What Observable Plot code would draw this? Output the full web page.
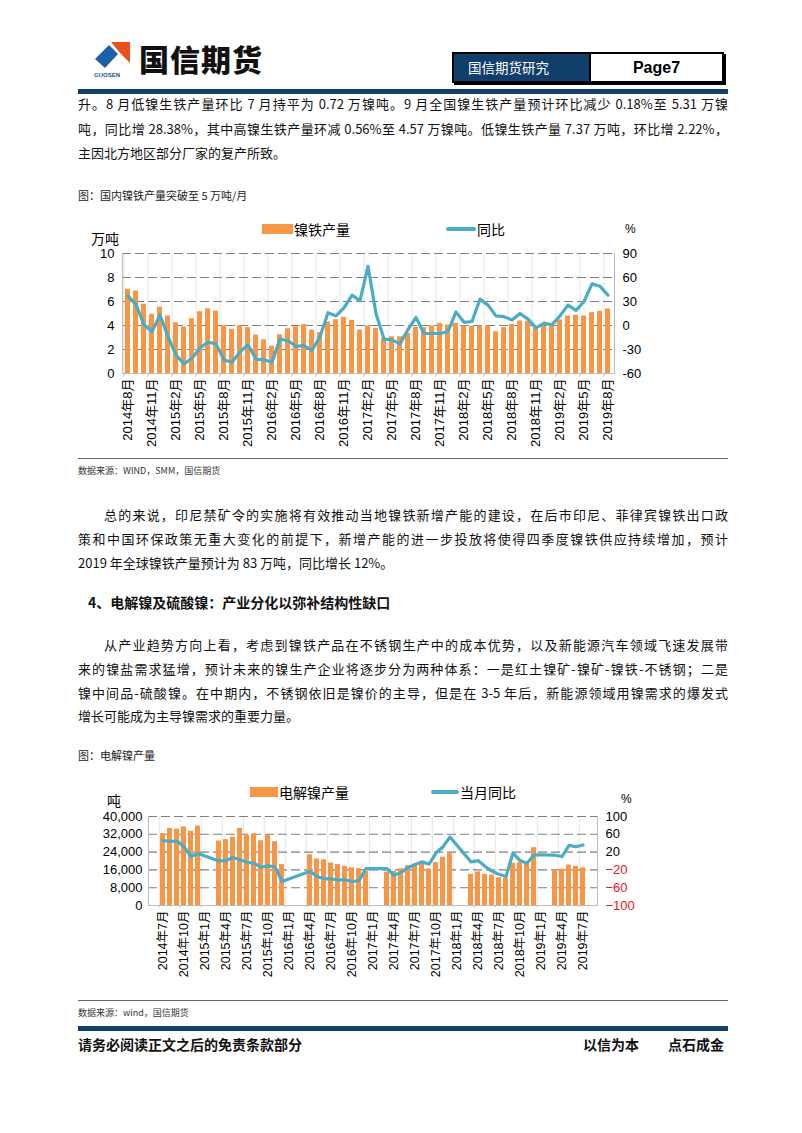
<!DOCTYPE html>
<html><head><meta charset="utf-8">
<script src="https://cdn.jsdelivr.net/npm/d3@7"></script>
<script src="https://cdn.jsdelivr.net/npm/@observablehq/plot@0.6"></script>
<style>
html,body{margin:0;padding:0;background:#fff;}
body{width:802px;height:1133px;position:relative;overflow:hidden;font-family:"Noto Sans CJK SC","Noto Sans",sans-serif;color:#111;}
.abs{position:absolute;white-space:nowrap;}
.tl{position:absolute;left:78px;width:650px;font-size:13px;line-height:20px;white-space:nowrap;}
.just{text-align:justify;text-align-last:justify;white-space:normal;height:20px;overflow:visible;}
.cap{position:absolute;left:78px;font-size:11px;color:#222;white-space:nowrap;}
.src{position:absolute;left:78px;font-size:9px;color:#333;white-space:nowrap;}
.rule{position:absolute;left:78px;width:650px;}
.leg{position:absolute;font-family:"Liberation Sans","Noto Sans CJK SC",sans-serif;font-size:14px;color:#000;white-space:nowrap;}
.chart{position:absolute;}
</style>
</head><body>

<!-- header -->
<svg class="abs" style="left:92px;top:38px" width="50" height="42" viewBox="0 0 50 42">
  <polygon points="3,21 17,7 26,16 13,30" fill="#1d5fa8"/>
  <polygon points="19,4 38,4 38,25 28,15" fill="#e8501c"/>
  <text x="2" y="39" font-size="6" font-family="Liberation Sans" font-weight="bold" fill="#1d4f8c">GUOSEN</text>
</svg>
<div class="abs" style="left:139px;top:36px;font-size:30px;font-weight:900;letter-spacing:1px;color:#111;">国信期货</div>
<div class="abs" style="left:452px;top:52px;width:268px;height:27px;border:2px solid #000;box-shadow:2px 2px 0 #000;">
  <div class="abs" style="left:0;top:0;width:135px;height:27px;background:#123e6b;color:#fff;font-size:13.5px;line-height:27px;padding-left:14px;box-sizing:border-box;">国信期货研究</div>
  <div class="abs" style="left:135px;top:0;width:133px;height:27px;border-left:2px solid #000;box-sizing:border-box;text-align:center;font-family:'Liberation Sans Narrow','Liberation Sans',sans-serif;font-weight:bold;font-size:16px;line-height:27px;color:#000;">Page7</div>
</div>
<div class="rule" style="top:89px;height:5px;background:#123e6b;"></div>

<!-- paragraph 1 -->
<div class="tl just" style="top:94px;">升。8 月低镍生铁产量环比 7 月持平为 0.72 万镍吨。9 月全国镍生铁产量预计环比减少 0.18%至 5.31 万镍</div>
<div class="tl just" style="top:119px;">吨，同比增 28.38%，其中高镍生铁产量环减 0.56%至 4.57 万镍吨。低镍生铁产量 7.37 万吨，环比增 2.22%，</div>
<div class="tl" style="top:143px;">主因北方地区部分厂家的复产所致。</div>

<div class="cap" style="top:187px;">图：国内镍铁产量突破至 5 万吨/月</div>

<!-- chart 1 legend & units -->
<div class="abs" style="left:262px;top:224px;width:31px;height:10px;background:#f79646;"></div>
<div class="leg" style="left:294px;top:219px;">镍铁产量</div>
<div class="abs" style="left:446px;top:227px;width:30px;height:4px;background:#4bacc6;border-radius:2px;"></div>
<div class="leg" style="left:477px;top:219px;">同比</div>
<div class="leg" style="left:91px;top:228px;">万吨</div>
<div class="leg" style="left:625px;top:222px;font-size:12px;">%</div>
<div id="c1" class="chart" style="left:78px;top:215px;"></div>

<div class="rule" style="top:458px;height:1px;background:#666;"></div>
<div class="src" style="top:464px;">数据来源：WIND，SMM，国信期货</div>

<!-- paragraph 2 -->
<div class="tl just" style="top:505px;padding-left:26px;width:624px;">总的来说，印尼禁矿令的实施将有效推动当地镍铁新增产能的建设，在后市印尼、菲律宾镍铁出口政</div>
<div class="tl just" style="top:529px;">策和中国环保政策无重大变化的前提下，新增产能的进一步投放将使得四季度镍铁供应持续增加，预计</div>
<div class="tl" style="top:553px;">2019 年全球镍铁产量预计为 83 万吨，同比增长 12%。</div>

<div class="tl" style="top:592px;left:88px;font-weight:bold;font-size:14px;">4、电解镍及硫酸镍：产业分化以弥补结构性缺口</div>

<!-- paragraph 3 -->
<div class="tl just" style="top:635px;padding-left:26px;width:624px;">从产业趋势方向上看，考虑到镍铁产品在不锈钢生产中的成本优势，以及新能源汽车领域飞速发展带</div>
<div class="tl just" style="top:659px;">来的镍盐需求猛增，预计未来的镍生产企业将逐步分为两种体系：一是红土镍矿-镍矿-镍铁-不锈钢；二是</div>
<div class="tl just" style="top:683px;">镍中间品-硫酸镍。在中期内，不锈钢依旧是镍价的主导，但是在 3-5 年后，新能源领域用镍需求的爆发式</div>
<div class="tl" style="top:706px;">增长可能成为主导镍需求的重要力量。</div>

<div class="cap" style="top:747px;">图：电解镍产量</div>

<!-- chart 2 legend & units -->
<div class="abs" style="left:250px;top:787px;width:28px;height:10px;background:#f79646;"></div>
<div class="leg" style="left:279px;top:782px;">电解镍产量</div>
<div class="abs" style="left:431px;top:790px;width:28px;height:4px;background:#4bacc6;border-radius:2px;"></div>
<div class="leg" style="left:460px;top:782px;">当月同比</div>
<div class="leg" style="left:107px;top:790px;">吨</div>
<div class="leg" style="left:621px;top:792px;font-size:12px;">%</div>
<div id="c2" class="chart" style="left:78px;top:770px;"></div>

<div class="rule" style="top:1000px;height:1px;background:#666;"></div>
<div class="src" style="top:1006px;">数据来源：wind，国信期货</div>

<!-- footer -->
<div class="rule" style="top:1026px;height:5px;background:#123e6b;"></div>
<div class="abs" style="left:78px;top:1034px;font-size:14px;font-weight:bold;color:#111;">请务必阅读正文之后的免责条款部分</div>
<div class="abs" style="left:583px;top:1034px;font-size:14px;font-weight:bold;color:#111;">以信为本</div>
<div class="abs" style="left:668px;top:1034px;font-size:14px;font-weight:bold;color:#111;">点石成金</div>

<script>
// ---------- data: chart 1 (镍铁产量, 万吨; 同比, %) 2014-08 .. 2019-08 ----------
const start1 = [2014, 8];
const prod1 = [7.02,6.88,5.77,4.93,5.52,4.79,4.23,3.87,4.57,5.15,
               5.40,5.20,3.98,3.68,3.98,3.82,3.20,2.81,2.28,3.23,
               3.73,3.90,4.07,3.62,3.40,4.29,4.48,4.68,4.43,3.62,
               3.96,3.76,2.90,3.06,3.06,3.34,3.84,3.82,3.96,4.18,
               4.04,4.18,3.96,3.93,3.96,3.93,3.48,3.82,4.10,4.37,
               4.35,3.76,3.96,4.04,4.46,4.79,4.85,4.79,5.07,5.18,5.38];
const yoy1 = [37,26,1,-7.5,13,-14,-37,-48,-41,-28,
              -21,-23,-43,-46,-33,-24,-42,-43,-46,-17,
              -19,-26,-25,-31,-14,16,12,22,38,31,
              74,15,-17,-18,-23,-5,10,-10,-10,-10,
              -7.5,17,4,5,33,25.5,12,11,7,15,
              8,-3,3,1,12,25.5,19,30,52,49,38];
const leftTicks1 = [0,2,4,6,8,10];
const rightTicks1 = [-60,-30,0,30,60,90];

// ---------- data: chart 2 (电解镍产量, 吨; 当月同比, %) 2014-07 .. 2019-07 ----------
const start2 = [2014, 7];
const prod2 = [32300,34600,34300,35300,33400,35700,null,null,
               29000,29600,30700,34600,31600,32200,29100,31600,28700,18400,null,null,null,
               22800,20900,20600,19100,18400,17600,16900,16600,15400,null,null,
               15000,15300,16500,17900,18500,18800,16400,19300,21700,23300,null,null,
               14000,15100,14000,13700,12500,12200,19000,19300,19000,26000,null,null,
               16000,16300,18200,17600,16900];
const yoy2 = [46,44,45,32,10,17,null,null,
              0,1,8,3,-3,-5,-14,-11,-13,-46,null,null,null,
              -23,-35,-40,-40,-43,-42,-46,-44,-17,null,null,
              -17,-32,-26,-15,-8,-2,-7,18,32,54,null,null,
              -2,1,-12,-23,-30,-35,18,1,-5,14,null,null,
              13,10,35,32,36];
const leftTicks2 = [0,8000,16000,24000,32000,40000];
const rightTicksPos2 = [20,60,100];
const rightTicksNeg2 = [-100,-60,-20];

// ---------- helpers ----------
function monthsFrom([y, m], n) {
  const out = [];
  for (let i = 0; i < n; i++) {
    const t = (m - 1) + i;
    out.push(`${y + Math.floor(t / 12)}-${String(t % 12 + 1).padStart(2, "0")}`);
  }
  return out;
}
const fmtMonth = d => { const [y, m] = d.split("-"); return `${y}年${+m}月`; };
const FONT = '"Liberation Sans","Noto Sans CJK SC",sans-serif';
const ORANGE = "#f79646", TEAL = "#4bacc6", AXIS = "#bdbdbd", GRID = "#7f7f7f";

// ---------- chart 1 ----------
const months1 = monthsFrom(start1, prod1.length);
const ticks1 = months1.filter((d, i) => i % 3 === 0);
const data1 = months1.map((m, i) => ({m, v: prod1[i], r: yoy1[i]}));
const toLeft1 = r => (r + 60) / 15;

const chart1 = Plot.plot({
  width: 580, height: 245,
  marginLeft: 44, marginRight: 44, marginTop: 38, marginBottom: 87,
  style: {fontFamily: FONT, fontSize: "13px", color: "#000", background: "transparent", overflow: "visible"},
  x: {type: "band", domain: months1, paddingInner: 0.36, paddingOuter: 0.18, axis: null, label: null},
  y: {domain: [0, 10], axis: null, label: null},
  marks: [
    Plot.ruleX(ticks1, {x: d => d, y1: 0, y2: 10, dx: -4, stroke: "#e6e6e6"}),
    Plot.ruleY(leftTicks1.filter(d => d > 0), {stroke: GRID, strokeDasharray: "9,4", strokeWidth: 1.1}),
    Plot.barY(data1, {x: "m", y: "v", fill: ORANGE}),
    Plot.lineY(data1, {x: "m", y: d => toLeft1(d.r), stroke: TEAL, strokeWidth: 3.2, strokeLinejoin: "round", strokeLinecap: "round"}),
    Plot.ruleY([0], {stroke: AXIS}),
    Plot.ruleX(ticks1, {x: d => d, y1: 0, y2: -0.3, dx: -4, stroke: AXIS}),
    Plot.frame({anchor: "left", stroke: AXIS}),
    Plot.frame({anchor: "right", stroke: AXIS}),
    Plot.axisY(leftTicks1, {anchor: "left", label: null, tickSize: 0, tickPadding: 8, fontSize: 13}),
    Plot.axisY(rightTicks1.map(toLeft1), {anchor: "right", label: null, tickSize: 0, tickPadding: 8, fontSize: 13,
      tickFormat: d => String(Math.round(d * 15 - 60))}),
    Plot.axisX(ticks1, {label: null, tickSize: 0, tickPadding: 5, tickRotate: -90, fontSize: 13, tickFormat: fmtMonth})
  ]
});
document.getElementById("c1").append(chart1);

// ---------- chart 2 ----------
const months2 = monthsFrom(start2, prod2.length);
const ticks2 = months2.filter((d, i) => i % 3 === 0);
const data2 = months2.map((m, i) => ({m, v: prod2[i], r: yoy2[i]}));
const toLeft2 = r => (r + 100) * 200;
const fmtThousands = d3.format(",");

const chart2 = Plot.plot({
  width: 560, height: 235,
  marginLeft: 70, marginRight: 41, marginTop: 46, marginBottom: 100,
  style: {fontFamily: FONT, fontSize: "12.5px", color: "#000", background: "transparent", overflow: "visible"},
  x: {type: "band", domain: months2, paddingInner: 0.25, paddingOuter: 0.1, axis: null, label: null},
  y: {domain: [0, 40000], axis: null, label: null},
  marks: [
    Plot.ruleX(ticks2, {x: d => d, y1: 0, y2: 40000, dx: -3.7, stroke: "#e6e6e6"}),
    Plot.ruleY(leftTicks2.filter(d => d > 0), {stroke: GRID, strokeDasharray: "9,4", strokeWidth: 1.1}),
    Plot.barY(data2, {filter: d => d.v != null, x: "m", y: "v", fill: ORANGE}),
    Plot.lineY(data2, {filter: d => d.r != null, x: "m", y: d => toLeft2(d.r), stroke: TEAL, strokeWidth: 3.2, strokeLinejoin: "round", strokeLinecap: "round"}),
    Plot.ruleY([0], {stroke: AXIS}),
    Plot.ruleX(ticks2, {x: d => d, y1: 0, y2: -1000, dx: -3.7, stroke: AXIS}),
    Plot.frame({anchor: "left", stroke: AXIS}),
    Plot.frame({anchor: "right", stroke: AXIS}),
    Plot.axisY(leftTicks2, {anchor: "left", label: null, tickSize: 0, tickPadding: 6, fontSize: 13, tickFormat: fmtThousands}),
    Plot.axisY(rightTicksPos2.map(toLeft2), {anchor: "right", label: null, tickSize: 0, tickPadding: 8, fontSize: 13,
      tickFormat: d => String(Math.round(d / 200 - 100))}),
    Plot.axisY(rightTicksNeg2.map(toLeft2), {anchor: "right", label: null, tickSize: 0, tickPadding: 8, fontSize: 13, fill: "#e8101e",
      tickFormat: d => "−" + String(Math.abs(Math.round(d / 200 - 100)))}),
    Plot.axisX(ticks2, {label: null, tickSize: 0, tickPadding: 5, tickRotate: -90, fontSize: 12.5, tickFormat: fmtMonth})
  ]
});
document.getElementById("c2").append(chart2);
</script>
</body></html>
